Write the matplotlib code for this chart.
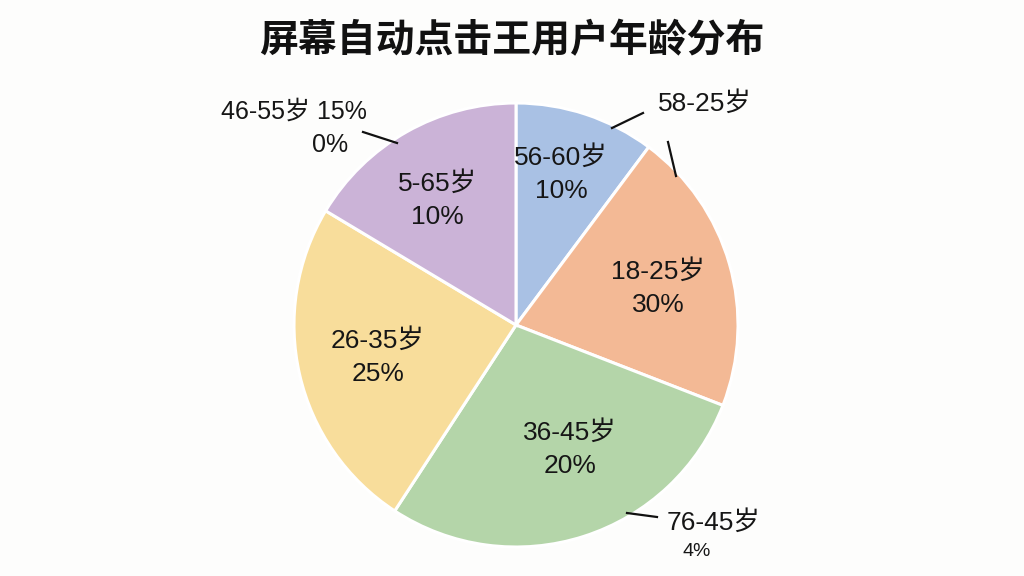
import matplotlib
matplotlib.use("Agg")
import matplotlib.pyplot as plt

plt.rcParams['font.family'] = ['Liberation Sans', 'Noto Sans CJK SC', 'DejaVu Sans']

title = "屏幕自动点击王用户年龄分布"
# slice shares (clockwise from top)
shares = [10.2, 20.7, 28.3, 24.4, 16.4]
slice_labels = ["56-60岁\n10%", "18-25岁\n30%", "36-45岁\n20%", "26-35岁\n25%", "5-65岁\n10%"]
colors = ["#a9c1e4", "#f3b995", "#b4d5a9", "#f8dd9b", "#cbb3d7"]
outer_labels = ["46-55岁 15%", "0%", "58-25岁", "76-45岁", "4%"]

W, H = 1024, 576
fig = plt.figure(figsize=(W / 100, H / 100), dpi=100)
fig.patch.set_facecolor("#fdfdfc")
ax = fig.add_axes([0, 0, 1, 1])

cx, cy, r = 516, 325, 222
wedges, _ = ax.pie(shares, colors=colors, startangle=90, counterclock=False,
                   center=(cx, -cy), radius=r,
                   wedgeprops=dict(edgecolor="white", linewidth=2.2))
ax.set_xlim(0, W)
ax.set_ylim(-H, 0)
ax.set_aspect('equal')
ax.axis('off')

fig.text(0.5, 1 - 41 / H, title, ha='center', va='center', fontsize=28,
         fontweight='bold', color="#111111",
         family=['Noto Sans CJK SC', 'DejaVu Sans'])

txt = dict(ha='center', va='center', color="#161616")
in_pos = [(561, 174), (658, 288), (570, 449), (378, 357), (437, 200)]
for (x, y), lab in zip(in_pos, slice_labels):
    ax.text(x, -y, lab, fontsize=19, linespacing=1.5, **txt)

# outer annotations
ax.text(294, -112, outer_labels[0], fontsize=18, **txt)
ax.text(330, -145, outer_labels[1], fontsize=18, **txt)
ax.plot([363, 397], [-132, -143], color="#111111", lw=1.6)

ax.text(705, -103, outer_labels[2], fontsize=19, **txt)
ax.plot([612, 643], [-128, -113], color="#111111", lw=1.6)
ax.plot([668, 676], [-142, -176], color="#111111", lw=1.6)

ax.text(714, -522, outer_labels[3], fontsize=19, **txt)
ax.text(697, -551, outer_labels[4], fontsize=14, **txt)
ax.plot([627, 657], [-513, -517], color="#111111", lw=1.6)

fig.savefig("out.png", dpi=100, facecolor=fig.get_facecolor())
